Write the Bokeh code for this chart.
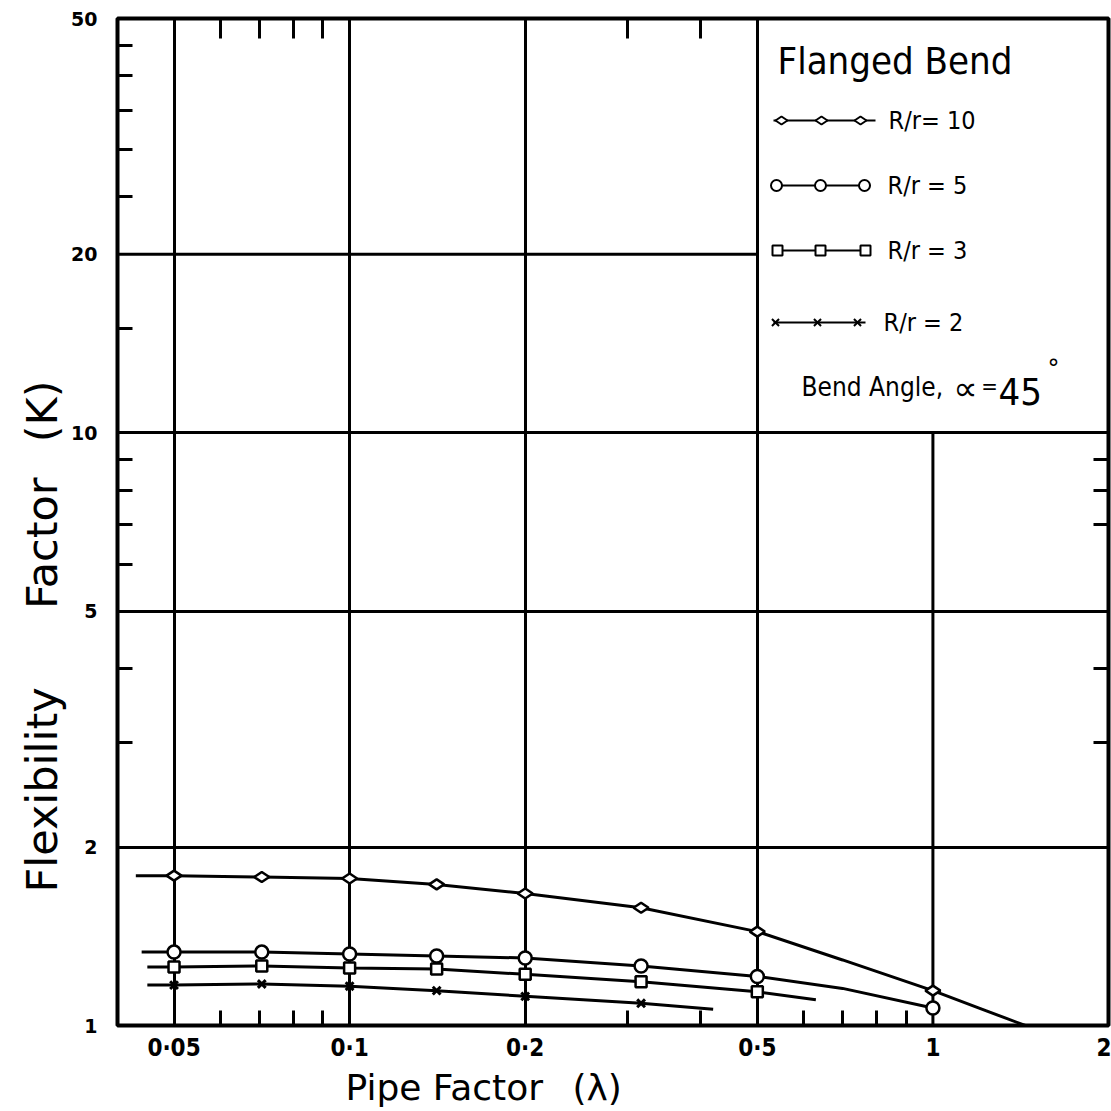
import numpy as np
from bokeh.plotting import figure
from bokeh.models import FixedTicker, LogAxis, Label, Range1d, CustomJSTickFormatter, Title
from bokeh.embed import file_html
from bokeh.resources import INLINE

# ---------------- data ----------------
x_major = [0.05, 0.1, 0.2, 0.5, 1.0, 2.0]
x_labels = ["0·05", "0·1", "0·2", "0·5", "1", "2"]
x_minor_bottom = [0.06, 0.07, 0.08, 0.09, 0.3, 0.4, 0.6, 0.7, 0.8, 0.9]
x_minor_top = [0.06, 0.07, 0.08, 0.09, 0.3, 0.4]
y_major = [1, 2, 5, 10, 20, 50]
y_labels = ["1", "2", "5", "10", "20", "50"]
y_minor_left = [3, 4, 6, 7, 8, 9, 15, 25, 30, 35, 40, 45]
y_minor_right = [3, 4, 7, 8, 9]
vgrid = [0.05, 0.1, 0.2, 0.5]
hgrid = [2, 5, 10]

# R/r = 10 (diamonds)
m10_x = [0.05, 0.0707, 0.1, 0.141, 0.2, 0.316, 0.5, 1.0]
m10_y = [1.79, 1.78, 1.77, 1.73, 1.67, 1.58, 1.44, 1.145]
c10_x = [0.043, 0.05, 0.0707, 0.1, 0.141, 0.2, 0.316, 0.5, 0.7, 1.0, 1.2, 1.44]
c10_y = [1.79, 1.79, 1.78, 1.77, 1.73, 1.67, 1.58, 1.44, 1.29, 1.145, 1.07, 1.0]
# R/r = 5 (circles)
m5_x = [0.05, 0.0707, 0.1, 0.141, 0.2, 0.316, 0.5, 1.0]
m5_y = [1.33, 1.33, 1.32, 1.31, 1.30, 1.26, 1.21, 1.07]
c5_x = [0.044, 0.05, 0.0707, 0.1, 0.141, 0.2, 0.316, 0.5, 0.7, 1.0]
c5_y = [1.33, 1.33, 1.33, 1.32, 1.31, 1.30, 1.26, 1.21, 1.155, 1.07]
# R/r = 3 (squares)
m3_x = [0.05, 0.0707, 0.1, 0.141, 0.2, 0.316, 0.5]
m3_y = [1.255, 1.26, 1.25, 1.245, 1.22, 1.185, 1.14]
c3_x = [0.045, 0.05, 0.0707, 0.1, 0.141, 0.2, 0.316, 0.5, 0.63]
c3_y = [1.255, 1.255, 1.26, 1.25, 1.245, 1.22, 1.185, 1.14, 1.105]
# R/r = 2 (crosses)
m2_x = [0.05, 0.0707, 0.1, 0.141, 0.2, 0.316]
m2_y = [1.17, 1.175, 1.165, 1.145, 1.12, 1.09]
c2_x = [0.045, 0.05, 0.0707, 0.1, 0.141, 0.2, 0.316, 0.42]
c2_y = [1.17, 1.17, 1.175, 1.165, 1.145, 1.12, 1.09, 1.065]

legend_labels = ["R/r= 10", "R/r = 5", "R/r = 3", "R/r = 2"]

# ---------------- layout ----------------
FL, FR, FT, FB = 117, 1108, 18, 1025
W, H = 1111, 1110
X0, X1, Y0, Y1 = 0.04, 2.0, 1.0, 50.0
FONT = "DejaVu Sans Condensed"
BFONT = "DejaVu Sans"


def xd(px):
    return 10 ** (np.log10(X0) + (px - FL) / (FR - FL) * np.log10(X1 / X0))


def yd(py):
    return 10 ** (np.log10(Y0) + (FB - py) / (FB - FT) * np.log10(Y1 / Y0))


p = figure(width=W, height=H, x_axis_type="log", y_axis_type="log",
           x_range=Range1d(X0, X1), y_range=Range1d(Y0, Y1),
           output_backend="svg", toolbar_location=None,
           min_border_left=FL, min_border_right=W - FR,
           min_border_top=FT, min_border_bottom=H - FB)
p.outline_line_color = "black"
p.outline_line_width = 4
p.background_fill_color = "white"
p.border_fill_color = "white"


def fmt(vals, labs):
    return CustomJSTickFormatter(args=dict(vals=vals, labs=labs), code="""
        for (let i = 0; i < vals.length; i++) {
            if (Math.abs(tick - vals[i]) < 1e-6 * vals[i]) return labs[i];
        }
        return "";
    """)


def style_axis(ax):
    ax.axis_line_color = None
    ax.major_tick_in = 0
    ax.major_tick_out = 0
    ax.minor_tick_in = 15
    ax.minor_tick_out = 0
    ax.minor_tick_line_width = 3
    ax.minor_tick_line_color = "black"


xa = p.xaxis[0]
xa.ticker = FixedTicker(ticks=x_major, minor_ticks=x_minor_bottom)
xa.formatter = fmt(x_major, x_labels)
style_axis(xa)
xa.major_label_standoff = 8
xa.major_label_text_font = FONT
xa.major_label_text_font_style = "bold"
xa.major_label_text_font_size = "24px"
xa.major_label_text_color = "black"

ya = p.yaxis[0]
ya.ticker = FixedTicker(ticks=y_major, minor_ticks=y_minor_left)
ya.formatter = fmt(y_major, y_labels)
style_axis(ya)
ya.major_label_standoff = 20
ya.major_label_text_font = BFONT
ya.major_label_text_font_style = "bold"
ya.major_label_text_font_size = "19px"
ya.major_label_text_color = "black"

top = LogAxis(ticker=FixedTicker(ticks=[], minor_ticks=x_minor_top))
style_axis(top)
top.minor_tick_in = 20
p.add_layout(top, "above")

right = LogAxis(ticker=FixedTicker(ticks=[], minor_ticks=y_minor_right))
style_axis(right)
p.add_layout(right, "right")

p.xgrid.ticker = FixedTicker(ticks=vgrid)
p.ygrid.ticker = FixedTicker(ticks=hgrid)
for g in (p.xgrid[0], p.ygrid[0]):
    g.grid_line_color = "black"
    g.grid_line_width = 3
    g.grid_line_alpha = 1.0

# partial grid lines: lambda = 1 below K = 10, K = 20 left of lambda = 0.5
p.segment(x0=[1.0], y0=[Y0], x1=[1.0], y1=[10.0], line_color="black", line_width=3)
p.segment(x0=[X0], y0=[20.0], x1=[0.5], y1=[20.0], line_color="black", line_width=3)

# curves
LW = 3
for cx, cy in ((c10_x, c10_y), (c5_x, c5_y), (c3_x, c3_y), (c2_x, c2_y)):
    p.line(cx, cy, line_color="black", line_width=LW)

p.scatter(m10_x, m10_y, marker="diamond", size=15, angle=np.pi / 2,
          fill_color="white", line_color="black", line_width=2.5)
p.scatter(m5_x, m5_y, marker="circle", size=13,
          fill_color="white", line_color="black", line_width=2.5)
p.scatter(m3_x, m3_y, marker="square", size=11,
          fill_color="white", line_color="black", line_width=2.5)
p.scatter(m2_x, m2_y, marker="x", size=11, line_color="black", line_width=3)

# ---------------- legend box (drawn) ----------------
rows_py = [120, 185, 250, 322]
sample_px = [[781, 821, 860], [776, 820, 864], [777, 820, 865], [775, 817, 857]]
line_px = [(773, 875), (773, 870), (773, 870), (773, 865)]
markers = [("diamond", 12, np.pi / 2), ("circle", 11, 0), ("square", 10, 0), ("x", 10, 0)]
text_px = [888, 887, 887, 883]


def lab(px, py, text, size, font=FONT, align="left", baseline="middle"):
    p.add_layout(Label(x=px - FL, y=FB - py, x_units="screen", y_units="screen",
                       text=text, text_font=font, text_font_size=size,
                       text_baseline=baseline, text_align=align, text_color="black"))


for i in range(4):
    yv = yd(rows_py[i])
    p.line([xd(line_px[i][0]), xd(line_px[i][1])], [yv, yv], line_color="black", line_width=2)
    mk, sz, ang = markers[i]
    p.scatter([xd(v) for v in sample_px[i]], [yv] * 3, marker=mk, size=sz, angle=ang,
              fill_color="white", line_color="black", line_width=2)
    lab(text_px[i], rows_py[i], legend_labels[i], "25px")

lab(777, 60, "Flanged Bend", "38px")
lab(801, 386, "Bend Angle,", "26px", baseline="alphabetic")
lab(965, 387, "∝", "34px", font=BFONT, align="center", baseline="alphabetic")
lab(989, 386, "=", "22px", align="center", baseline="alphabetic")
lab(998, 391, "45", "38px", baseline="alphabetic")
lab(1047, 368, "°", "24px", font=BFONT, baseline="middle")

# ---------------- axis titles ----------------
yt = Title(text="Flexibility \u2003\u2002Factor \u2002(K)", align="left", offset=FB - 892,
           text_font=BFONT, text_font_size="43px", text_font_style="normal",
           text_color="black", vertical_align="top", standoff=0)
p.add_layout(yt, "left")
xt = Title(text="Pipe Factor \u2002(λ)", align="left", offset=345 - FL,
           text_font=BFONT, text_font_size="36px", text_font_style="normal",
           text_color="black", standoff=0)
p.add_layout(xt, "below")

open("out.html", "w").write(file_html(p, INLINE))
